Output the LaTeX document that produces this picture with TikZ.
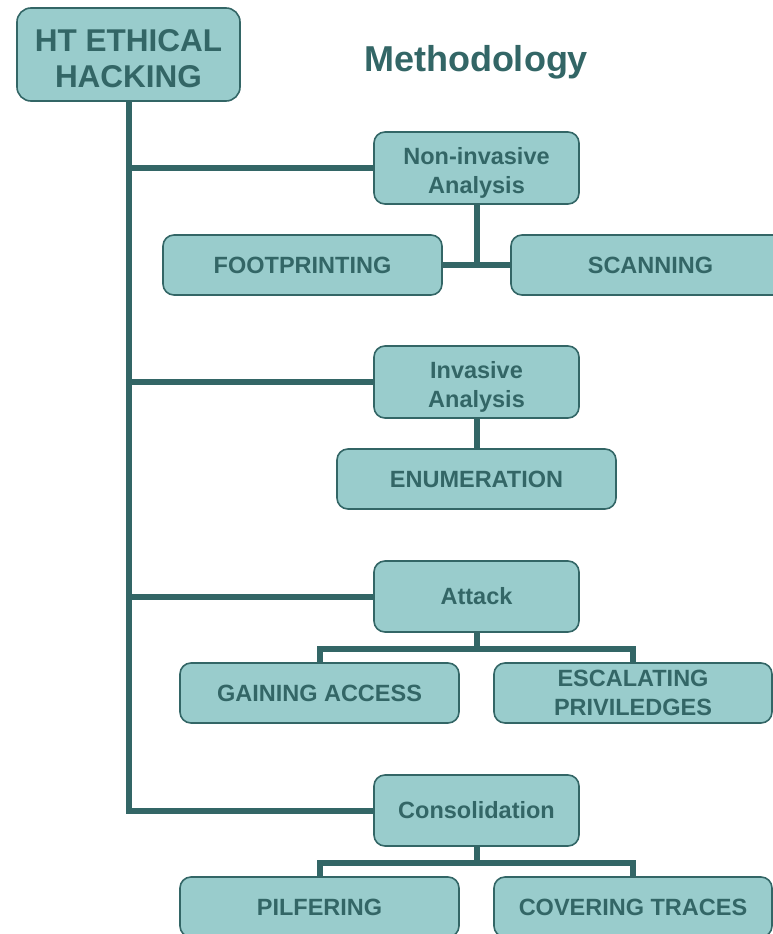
\documentclass[tikz,border=0pt]{standalone}
\usepackage{fontspec}
\setmainfont{Liberation Sans}
\definecolor{boxfill}{RGB}{153,204,204}
\definecolor{dark}{RGB}{51,102,102}
\newcommand{\lowstrut}{\rule{0pt}{27pt}}
\tikzset{
  x=1pt, y=-1pt,
  box/.style={draw=dark, line width=1.6pt, fill=boxfill, rounded corners=11pt,
    inner sep=0pt, align=center, text=dark,
    font=\fontsize{23.5}{29}\selectfont\bfseries},
  conn/.style={draw=dark, line width=6pt},
}
\begin{document}
\begin{tikzpicture}
\useasboundingbox (0,0) rectangle (773,934);
% title
\node[text=dark, font=\fontsize{36}{40}\selectfont\bfseries] (title) at (476,62) {Methodology};
% boxes
\node[box, minimum width=223pt, minimum height=93pt, rounded corners=14pt,
      font=\fontsize{31.5}{36}\selectfont\bfseries] (ht) at (128.5,54.5) {\rule{0pt}{30pt}HT ETHICAL\\HACKING};
\node[box, minimum width=205pt, minimum height=72pt] (non) at (476.5,168) {\lowstrut Non-invasive\\Analysis};
\node[box, minimum width=279pt, minimum height=60pt] (foot) at (302.5,265) {FOOTPRINTING};
\node[box, minimum width=279pt, minimum height=60pt] (scan) at (650.5,265) {SCANNING};
\node[box, minimum width=205pt, minimum height=72pt] (inv) at (476.5,382) {\lowstrut Invasive\\Analysis};
\node[box, minimum width=279pt, minimum height=60pt] (enum) at (476.5,479) {ENUMERATION};
\node[box, minimum width=205pt, minimum height=71pt] (att) at (476.5,596.5) {Attack};
\node[box, minimum width=279pt, minimum height=60pt] (gain) at (319.5,693) {GAINING ACCESS};
\node[box, minimum width=278pt, minimum height=60pt] (esc) at (633,693) {ESCALATING\\PRIVILEDGES};
\node[box, minimum width=205pt, minimum height=71pt] (cons) at (476.5,810.5) {Consolidation};
\node[box, minimum width=279pt, minimum height=60pt] (pilf) at (319.5,907) {PILFERING};
\node[box, minimum width=278pt, minimum height=60pt] (cov) at (633,907) {COVERING TRACES};
% trunk and branches
\draw[conn] (ht.south) -- (ht.south |- cons.west) -- (cons.west);
\draw[conn] (ht.south |- non.west) -- (non.west);
\draw[conn] (ht.south |- inv.west) -- (inv.west);
\draw[conn] (ht.south |- att.west) -- (att.west);
% non-invasive
\draw[conn] (non.south) -- (non.south |- foot.east);
\draw[conn] (foot.east) -- (scan.west);
% invasive
\draw[conn] (inv.south) -- (enum.north);
% attack
\draw[conn] (att.south) -- ++(0,16) coordinate (aj) -| (gain.north);
\draw[conn] (aj) -| (esc.north);
% consolidation
\draw[conn] (cons.south) -- ++(0,16) coordinate (cj) -| (pilf.north);
\draw[conn] (cj) -| (cov.north);
\end{tikzpicture}
\end{document}
